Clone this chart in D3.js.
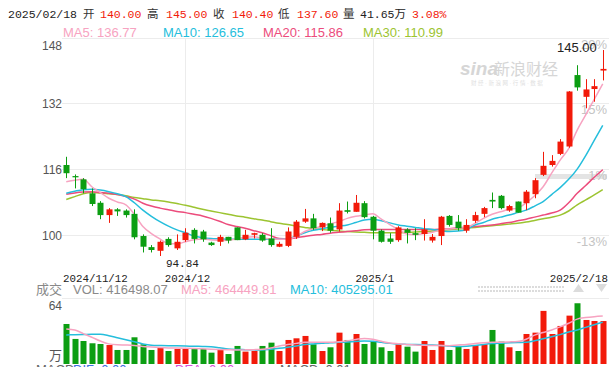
<!DOCTYPE html>
<html>
<head>
<meta charset="utf-8">
<script src="https://cdn.jsdelivr.net/npm/d3@7/dist/d3.min.js"></script>
<style>
  body { margin: 0; background: #fff; }
  svg { display: block; }
</style>
</head>
<body>
<svg id="chart" width="609" height="367"></svg>
<script>
// trading days shown in the window
const dates = [
  "2024/11/12","2024/11/13","2024/11/14","2024/11/15","2024/11/18","2024/11/19","2024/11/20","2024/11/21",
  "2024/11/22","2024/11/25","2024/11/26","2024/11/27","2024/11/28","2024/11/29",
  "2024/12/02","2024/12/03","2024/12/04","2024/12/05","2024/12/06","2024/12/09","2024/12/10","2024/12/11",
  "2024/12/12","2024/12/13","2024/12/16","2024/12/17","2024/12/18","2024/12/19","2024/12/20","2024/12/23",
  "2024/12/24","2024/12/25","2024/12/26","2024/12/27","2024/12/30","2024/12/31",
  "2025/01/02","2025/01/03","2025/01/06","2025/01/07","2025/01/08","2025/01/09","2025/01/10","2025/01/13",
  "2025/01/14","2025/01/15","2025/01/16","2025/01/17","2025/01/20","2025/01/21","2025/01/22","2025/01/23",
  "2025/01/24","2025/01/27",
  "2025/02/05","2025/02/06","2025/02/07","2025/02/10","2025/02/11","2025/02/12","2025/02/13","2025/02/14",
  "2025/02/17","2025/02/18"
];

const opens = [117.0,114.3,113.5,110.1,107.8,104.8,106.2,105.9,105.1,99.7,97.0,96.1,99.0,96.7,98.7,101.2,
  100.8,98.1,98.3,99.5,101.8,98.9,100.0,100.0,99.1,97.1,97.3,99.5,103.2,104.0,101.8,102.8,
  101.3,106.0,105.6,107.7,104.4,101.0,99.1,98.7,101.3,100.4,100.2,98.6,99.7,104.6,103.2,101.0,
  103.4,105.1,108.5,109.5,105.9,108.1,107.7,109.9,114.6,117.0,119.7,121.5,138.9,133.6,135.5,140.0];
const highs = [119.0,114.7,113.8,111.3,108.2,106.5,106.5,106.2,106.2,100.1,97.5,98.6,99.4,100.1,101.6,101.6,
  101.2,98.3,100.0,99.5,101.8,101.2,100.5,100.4,101.6,98.3,101.8,103.6,106.3,105.1,103.0,104.2,
  107.7,108.1,109.7,108.2,104.6,101.3,100.4,102.1,101.6,101.6,103.8,100.2,104.6,104.8,104.8,103.8,
  105.6,106.8,110.3,109.7,107.3,108.1,110.9,113.8,120.2,119.4,123.3,135.0,141.3,137.9,137.9,145.0];
const lows = [113.8,111.3,110.1,107.0,103.8,102.9,104.6,104.2,98.9,95.7,95.7,94.84,97.1,96.3,98.3,97.9,
  98.3,97.3,97.3,97.9,98.7,98.7,99.1,98.3,97.1,97.0,97.0,99.0,102.9,101.2,100.9,100.5,
  100.8,105.2,105.6,104.0,98.9,98.1,97.8,98.3,97.9,98.7,98.6,98.1,97.5,102.0,101.0,100.5,
  102.9,104.3,106.5,106.2,105.6,105.4,106.0,108.9,114.3,116.6,119.4,121.2,135.1,130.8,132.4,137.6];
const closes = [115.0,114.0,111.1,107.5,104.8,106.2,105.7,104.8,99.4,97.1,96.3,98.3,97.5,98.3,100.5,99.0,
  98.9,97.5,99.5,98.6,98.7,100.0,100.4,98.6,97.5,97.8,100.8,103.2,104.0,101.6,102.9,101.0,
  105.9,105.6,107.8,104.3,101.0,98.3,98.3,101.8,100.5,100.0,101.3,99.5,104.4,102.4,101.6,102.4,
  104.8,106.5,108.1,106.5,107.0,105.4,110.5,113.3,116.8,118.0,122.7,134.9,135.9,135.4,136.2,140.4];

const ma5 = [112.9,113.3,113.5,111.7,110.3,108.9,108.0,107.3,105.0,102.0,100.3,99.0,97.9,97.8,98.3,98.8,
  99.0,98.8,98.6,98.7,99.0,99.4,99.5,99.2,99.0,98.9,99.0,99.6,100.8,101.5,102.1,102.7,
  103.2,104.0,104.5,104.8,105.1,103.8,102.5,101.3,100.2,100.0,100.3,100.6,101.2,101.4,101.6,101.8,
  102.8,104.0,105.0,105.6,106.2,106.5,107.8,109.5,111.7,115.0,118.2,121.0,125.5,129.2,133.0,136.77];
const ma10 = [110.1,110.6,111.0,111.1,110.9,110.5,110.0,109.3,107.8,106.0,104.5,103.2,102.1,101.2,100.5,99.7,
  99.3,99.1,99.0,98.9,98.9,98.9,98.9,98.9,98.9,98.9,99.0,99.7,100.5,101.1,101.5,101.8,
  102.1,102.4,103.0,103.6,103.8,103.4,102.9,102.4,102.1,101.8,101.5,101.3,101.0,100.8,100.9,101.3,
  102.4,103.0,103.8,104.3,104.8,105.4,106.0,107.0,108.1,109.8,111.5,113.5,116.0,119.3,123.0,126.65];
const ma20 = [109.9,110.2,110.4,110.5,110.3,110.1,109.8,109.3,108.7,107.7,107.0,106.5,106.1,105.7,105.4,105.0,
  104.6,104.0,103.3,102.5,102.0,101.6,101.0,100.5,99.8,99.1,99.0,99.3,99.6,99.9,100.1,100.4,
  100.6,100.8,101.0,101.2,101.3,101.3,101.3,101.3,101.3,101.3,101.3,101.3,101.4,101.5,101.7,101.8,
  102.0,102.2,102.4,102.7,103.0,103.4,103.8,104.3,104.8,105.3,106.0,107.8,110.1,112.0,114.0,115.86];
const ma30 = [108.6,109.3,110.0,110.3,110.2,110.0,109.8,109.5,109.1,108.8,108.5,108.3,108.0,107.6,107.2,106.7,
  106.2,105.8,105.4,105.0,104.6,104.3,103.9,103.6,103.2,102.8,102.5,102.1,101.8,101.5,101.3,101.1,
  100.9,100.8,100.7,100.6,100.5,100.5,100.5,100.5,100.6,100.7,100.8,100.9,101.1,101.2,101.4,101.6,
  101.8,102.0,102.2,102.4,102.6,102.8,103.1,103.5,103.9,104.3,104.8,105.8,107.3,108.5,109.7,110.99];

// volume in 万手
const volumes = [38.8,24.3,22.3,20.1,19.4,18.4,13.6,13.6,25.9,19.1,13.6,15.8,12.6,14.6,14.6,14.6,
  14.6,11.0,13.6,9.7,17.5,12.0,12.6,17.5,20.7,12.6,23.3,24.9,27.2,19.1,12.6,16.2,
  30.4,23.3,29.1,19.4,22.3,16.2,12.6,19.1,16.8,12.0,22.3,13.6,22.3,13.6,17.5,14.6,
  18.4,19.1,33.0,21.7,16.2,12.6,29.1,30.4,51.5,29.1,36.9,46.9,58.9,42.7,41.7,41.649807];
const volMa5 = [34.0,33.0,29.5,26.0,22.3,19.5,18.6,18.4,18.0,17.0,16.5,16.0,15.6,15.4,15.2,15.0,
  14.7,14.4,14.1,13.8,13.6,13.7,13.9,14.2,15.5,17.5,18.8,20.0,21.0,21.0,21.0,21.0,
  21.5,22.5,23.8,24.8,24.0,22.0,20.3,19.6,19.0,18.5,18.2,18.0,17.9,17.8,18.4,19.0,
  19.8,20.5,21.0,21.2,21.4,21.7,24.0,28.0,30.5,33.0,36.0,39.5,43.5,45.0,45.9,46.444981];
const volMa10 = [28.2,28.4,28.6,28.8,28.8,27.5,25.5,23.5,21.5,19.5,18.3,18.0,17.8,17.6,17.4,17.2,
  17.0,16.8,15.8,14.6,14.1,13.9,13.7,13.6,14.3,15.2,16.3,17.5,18.8,19.5,20.0,20.6,
  21.0,21.4,21.8,22.2,22.0,21.0,20.0,19.3,19.0,18.8,18.6,18.4,18.0,17.4,16.9,17.2,
  18.0,19.0,19.8,20.2,20.5,20.8,21.0,22.5,24.5,26.5,28.5,31.0,33.0,35.5,38.0,40.529501];

const priceTicks = [100, 116, 132, 148];
const pctLabels = ["-13%", "1%", "15%", "29%"];
const volTickLabels = ["64", "万"];
const dateTickKeys = ["2024/11/12", "2024/12/02", "2025/01/02", "2025/02/18"];
const dateTickLabels = ["2024/11/12", "2024/12", "2025/1", "2025/2/18"];
const lowLabel = "94.84";

const UP = "#f21a0a", DOWN = "#0c9e12";
const C5 = "#f7a3c1", C10 = "#25bedc", C20 = "#ec4c7c", C30 = "#9cc431";
const SANS = "'Liberation Sans', Arial, 'Noto Sans CJK SC', sans-serif";
const MONO = "'Liberation Mono', 'DejaVu Sans Mono', 'Noto Sans CJK SC', monospace";

const svg = d3.select("#chart");
const left = 62, right = 607, plotRight = 609;
const n = dates.length;

const x = d3.scaleBand().domain(dates).range([left, right]).paddingInner(0.3).paddingOuter(0.15);
const cx = d => x(d) + x.bandwidth() / 2;
const y = d3.scaleLinear().domain([100, 148]).range([234.8, 37.7]);
const yv = d3.scaleLinear().domain([0, 64]).range([364, 298]);

// --- header line ---
const last = n - 1;
const fmt = v => v.toFixed(2);
const pct = ((closes[last] / closes[last - 1] - 1) * 100).toFixed(2) + "%";
const header = [
  [8, dates[last], "#222"], [83, "开", "#333"], [100, fmt(opens[last]), UP],
  [147, "高", "#333"], [166, fmt(highs[last]), UP], [213, "收", "#333"], [232, fmt(closes[last]), UP],
  [278, "低", "#333"], [297, fmt(lows[last]), UP], [343, "量", "#333"],
  [360, volumes[last].toFixed(2) + "万", "#222"], [412, pct, UP]
];
svg.append("g").selectAll("text").data(header).join("text")
  .attr("x", d => d[0]).attr("y", 18)
  .attr("font-family", MONO).attr("font-size", 11.5)
  .attr("fill", d => d[2]).text(d => d[1]);

const maHeader = [
  [63, "MA5: " + fmt(ma5[last]), C5], [163, "MA10: " + fmt(ma10[last]), C10],
  [263, "MA20: " + fmt(ma20[last]), C20], [363, "MA30: " + fmt(ma30[last]), C30]
];
svg.append("g").selectAll("text").data(maHeader).join("text")
  .attr("x", d => d[0]).attr("y", 36.5)
  .attr("font-family", SANS).attr("font-size", 13)
  .attr("fill", d => d[2]).text(d => d[1]);

// --- grid ---
const grid = svg.append("g").attr("stroke", "#ececec").attr("stroke-width", 1);
grid.selectAll("line.h").data(priceTicks).join("line")
  .attr("x1", left).attr("x2", plotRight)
  .attr("y1", d => Math.round(y(d)) + 0.5).attr("y2", d => Math.round(y(d)) + 0.5);
[dateTickKeys[1], dateTickKeys[2]].forEach(k => {
  grid.append("line")
    .attr("x1", Math.round(cx(k)) + 0.5).attr("x2", Math.round(cx(k)) + 0.5)
    .attr("y1", 38).attr("y2", 364);
});
grid.append("line").attr("x1", left).attr("x2", plotRight)
  .attr("y1", yv(64) + 0.5).attr("y2", yv(64) + 0.5);

// 1% marker band
svg.append("rect").attr("x", 535).attr("y", Math.round(y(116)) + 5)
  .attr("width", 72).attr("height", 5).attr("fill", "#e4e4e4");

// watermark
const wm = svg.append("g").attr("fill", "#d6d6d6");
wm.append("text").attr("x", 460).attr("y", 75)
  .attr("font-family", SANS).attr("font-size", 19).attr("font-style", "italic").attr("font-weight", "bold")
  .text("sina");
wm.append("text").attr("x", 494).attr("y", 75)
  .attr("font-family", SANS).attr("font-size", 16).text("新浪财经");
wm.append("text").attr("x", 471).attr("y", 85)
  .attr("font-family", SANS).attr("font-size", 5.5).attr("fill", "#e0e0e0")
  .text("财 经 · 新 浪 网 · 行 情 · 数 据");

// --- price axis labels ---
svg.append("g").selectAll("text").data(priceTicks).join("text")
  .attr("x", left).attr("text-anchor", "end")
  .attr("y", d => d === 148 ? y(d) + 12.5 : y(d) + 5)
  .attr("font-family", SANS).attr("font-size", 12).attr("fill", "#555")
  .text(d => d);
svg.append("g").selectAll("text").data(pctLabels).join("text")
  .attr("x", 607).attr("text-anchor", "end")
  .attr("y", (d, i) => y(priceTicks[i]) + 11)
  .attr("font-family", SANS).attr("font-size", 13).attr("fill", "#c4c4c4")
  .text(d => d);

// --- MA lines (price) ---
const maLine = d3.line().x((d, i) => cx(dates[i])).y(d => y(d)).curve(d3.curveMonotoneX);
[[ma30, C30], [ma20, C20], [ma10, C10], [ma5, C5]].forEach(([arr, c]) => {
  svg.append("path").datum(arr).attr("d", maLine)
    .attr("fill", "none").attr("stroke", c).attr("stroke-width", 1.5);
});

// --- candles ---
const candles = dates.map((d, i) => ({ d, o: opens[i], h: highs[i], l: lows[i], c: closes[i] }));
const cg = svg.append("g").selectAll("g").data(candles).join("g");
cg.append("line")
  .attr("x1", d => Math.round(cx(d.d)) + 0.5).attr("x2", d => Math.round(cx(d.d)) + 0.5)
  .attr("y1", d => y(d.h)).attr("y2", d => y(d.l))
  .attr("stroke", d => d.c >= d.o ? UP : DOWN).attr("stroke-width", 1);
cg.append("rect")
  .attr("x", d => Math.round(cx(d.d)) - 2.5).attr("width", 6)
  .attr("y", d => y(Math.max(d.o, d.c)))
  .attr("height", d => Math.max(1, Math.abs(y(d.o) - y(d.c))))
  .attr("fill", d => d.c >= d.o ? UP : DOWN);

// high / low labels
const hiIdx = d3.maxIndex(highs), loIdx = d3.minIndex(lows);
svg.append("text").attr("x", cx(dates[hiIdx]) - 6).attr("y", y(highs[hiIdx]) + 2)
  .attr("text-anchor", "end").attr("font-family", SANS).attr("font-size", 13).attr("fill", "#222")
  .text(fmt(highs[hiIdx]));
svg.append("text").attr("x", cx(dates[loIdx]) + 6).attr("y", y(lows[loIdx]) + 11)
  .attr("font-family", MONO).attr("font-size", 11).attr("fill", "#222")
  .text(lowLabel);

// --- date labels ---
svg.append("g").selectAll("text").data(dateTickKeys).join("text")
  .attr("x", (k, i) => i === 0 ? left + 1 : i === dateTickKeys.length - 1 ? 608 : cx(k) + 2)
  .attr("text-anchor", (k, i) => i === 0 ? "start" : i === dateTickKeys.length - 1 ? "end" : "middle")
  .attr("y", 281.5)
  .attr("font-family", MONO).attr("font-size", 10.8).attr("fill", "#222")
  .text((k, i) => dateTickLabels[i]);

// --- volume header ---
const volHeader = [
  [36, "成交", "#888"], [73, "VOL: " + (volumes[last] * 10000).toFixed(2), "#8a8a8a"],
  [181, "MA5: " + (volMa5[last] * 10000).toFixed(2), C5],
  [290, "MA10: " + (volMa10[last] * 10000).toFixed(2), C10]
];
svg.append("g").selectAll("text").data(volHeader).join("text")
  .attr("x", d => d[0]).attr("y", 293.5)
  .attr("font-family", SANS).attr("font-size", 13)
  .attr("fill", d => d[2]).text(d => d[1]);

// dotted toolbar + arrows at right of volume header
const dots = svg.append("g").attr("fill", "#dcdcdc");
d3.range(0, 87, 3).forEach(dx => {
  dots.append("rect").attr("x", 478 + dx).attr("y", 286).attr("width", 2).attr("height", 2);
  dots.append("rect").attr("x", 478 + dx).attr("y", 290).attr("width", 2).attr("height", 2);
});
svg.append("path").attr("d", "M573,292 L584,292 L578.5,284 Z").attr("fill", "#dcdcdc");
svg.append("path").attr("d", "M596,284 L607,284 L601.5,292 Z").attr("fill", "#dcdcdc");

// volume axis labels
svg.append("text").attr("x", left).attr("y", yv(64) + 11.5).attr("text-anchor", "end")
  .attr("font-family", SANS).attr("font-size", 12).attr("fill", "#555").text(volTickLabels[0]);
svg.append("text").attr("x", left).attr("y", yv(0) - 4).attr("text-anchor", "end")
  .attr("font-family", "'Noto Sans CJK SC', sans-serif").attr("font-size", 13).attr("fill", "#555").text(volTickLabels[1]);

// volume bars
svg.append("g").selectAll("rect").data(candles).join("rect")
  .attr("x", d => Math.round(cx(d.d)) - 2.5).attr("width", 6)
  .attr("y", (d, i) => yv(volumes[i]))
  .attr("height", (d, i) => yv(0) - yv(volumes[i]))
  .attr("fill", d => d.c >= d.o ? UP : DOWN);

const vLine = d3.line().x((d, i) => cx(dates[i])).y(d => yv(d)).curve(d3.curveMonotoneX);
[[volMa10, C10], [volMa5, C5]].forEach(([arr, c]) => {
  svg.append("path").datum(arr).attr("d", vLine)
    .attr("fill", "none").attr("stroke", c).attr("stroke-width", 1.5);
});

// MACD header, mostly cut off by the bottom edge
const macdHeader = [
  [36, "MACD", "#666"], [73, "DIF: 0.00", "#3d6ee0"], [175, "DEA: 0.00", "#d84fd8"], [280, "MACD: 0.01", "#666"]
];
svg.append("g").selectAll("text").data(macdHeader).join("text")
  .attr("x", d => d[0]).attr("y", 374)
  .attr("font-family", SANS).attr("font-size", 13)
  .attr("fill", d => d[2]).text(d => d[1]);
</script>
</body>
</html>
